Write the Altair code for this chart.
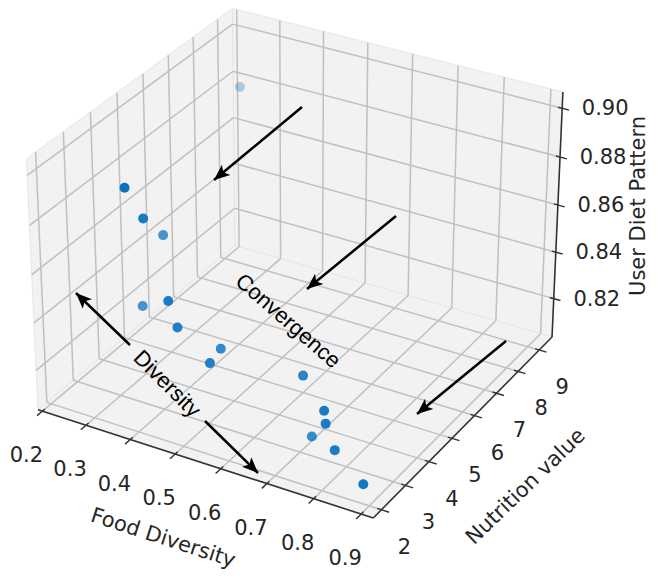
import math
import altair as alt
import pandas as pd

# ---------------- data ----------------
food_diversity = [0.222, 0.371, 0.390, 0.354, 0.354, 0.468, 0.481, 0.531,
                  0.549, 0.691, 0.769, 0.777, 0.716, 0.804, 0.878]
nutrition_value = [9.33, 2.21, 2.54, 3.87, 3.03, 2.08, 2.18, 2.95,
                   2.21, 3.29, 2.67, 2.58, 3.18, 2.44, 2.18]
diet_pattern = [0.877, 0.900, 0.886, 0.866, 0.844, 0.861, 0.850, 0.837,
                0.839, 0.832, 0.828, 0.824, 0.809, 0.816, 0.809]

x_ticks = [0.2, 0.3, 0.4, 0.5, 0.6, 0.7, 0.8, 0.9]
y_ticks = [2, 3, 4, 5, 6, 7, 8, 9]
z_ticks = [0.82, 0.84, 0.86, 0.88, 0.90]
x_tick_labels = ["0.2", "0.3", "0.4", "0.5", "0.6", "0.7", "0.8", "0.9"]
y_tick_labels = ["2", "3", "4", "5", "6", "7", "8", "9"]
z_tick_labels = ["0.82", "0.84", "0.86", "0.88", "0.90"]

axis_titles = ["Food Diversity", "Nutrition value", "User Diet Pattern"]
note_texts = ["Convergence", "Diversity"]

# limits of the 3-D box
x_lim = [0.19, 0.9255]
y_lim = [1.67, 9.62]
z_lim = [0.8032, 0.9066]

# ---------------- view / layout ----------------
ELEV, AZIM, DIST = 30.0, -60.0, 10.0
BOX = [8 / 7, 8 / 7, 6 / 7]
W, H = 643, 564
U_DOM = [-86.73, 104.52]
V_DOM = [-96.02, 72.90]

# annotation anchors in projected view units
title_u = [-40.63, 67.34, 100.95]
title_v = [-86.0, -70.56, 13.60]
title_angle = [18, 316, 270]
note_u = [-3.45, -39.41]
note_v = [-20.84, -39.69]
note_angle = [41, 45]
arrow_u0 = [0.71, 28.67, 61.39, -50.45, -28.14]
arrow_v0 = [43.25, 10.60, -26.83, -28.03, -50.79]
arrow_u1 = [-25.46, 2.20, 34.92, -66.51, -12.37]
arrow_v1 = [21.38, -11.26, -48.70, -12.46, -66.37]

ARROW_HEAD = "M0,0 L0.42,1 L0,0.76 L-0.42,1 Z"

# ---------------- projection (matplotlib-like perspective) ----------------
e, a = math.radians(ELEV), math.radians(AZIM)
w = [math.cos(e) * math.cos(a), math.cos(e) * math.sin(a), math.sin(e)]
n = math.hypot(w[0], w[1])
u = [-w[1] / n, w[0] / n, 0.0]
v = [w[1] * u[2] - w[2] * u[1], w[2] * u[0] - w[0] * u[2], w[0] * u[1] - w[1] * u[0]]

x0, x1 = x_lim
y0, y1 = y_lim
z0, z1 = z_lim
rx, ry, rz = x1 - x0, y1 - y0, z1 - z0


def project(ch):
    return (
        ch.transform_calculate(qx=f"{BOX[0]}*((datum.x-({x0}))/{rx}-0.5)")
        .transform_calculate(qy=f"{BOX[1]}*((datum.y-({y0}))/{ry}-0.5)")
        .transform_calculate(qz=f"{BOX[2]}*((datum.z-({z0}))/{rz}-0.5)")
        .transform_calculate(dep=f"({w[0]})*datum.qx+({w[1]})*datum.qy+({w[2]})*datum.qz")
        .transform_calculate(px=f"1000*(({u[0]})*datum.qx+({u[1]})*datum.qy+({u[2]})*datum.qz)/({DIST}-datum.dep)")
        .transform_calculate(py=f"1000*(({v[0]})*datum.qx+({v[1]})*datum.qy+({v[2]})*datum.qz)/({DIST}-datum.dep)")
    )


def XY(xf="px", yf="py"):
    return dict(
        x=alt.X(f"{xf}:Q", scale=alt.Scale(domain=U_DOM, nice=False, zero=False), axis=None),
        y=alt.Y(f"{yf}:Q", scale=alt.Scale(domain=V_DOM, nice=False, zero=False), axis=None),
    )


# ---------------- structure tables ----------------
def segs(pairs):
    rows = []
    for i, (p, q) in enumerate(pairs):
        rows.append(dict(seg=i, ord=0, x=p[0], y=p[1], z=p[2]))
        rows.append(dict(seg=i, ord=1, x=q[0], y=q[1], z=q[2]))
    return pd.DataFrame(rows)


pane_rows = []
panes = [
    [(x0, y0, z0), (x0, y1, z0), (x0, y1, z1), (x0, y0, z1)],  # left wall
    [(x0, y1, z0), (x1, y1, z0), (x1, y1, z1), (x0, y1, z1)],  # back wall
    [(x0, y0, z0), (x1, y0, z0), (x1, y1, z0), (x0, y1, z0)],  # floor
]
for i, poly in enumerate(panes):
    for k, p in enumerate(poly):
        pane_rows.append(dict(pane=i, ord=k, x=p[0], y=p[1], z=p[2]))
pane_df = pd.DataFrame(pane_rows)

grid_pairs = []
for t in x_ticks:
    grid_pairs += [((t, y0, z0), (t, y1, z0)), ((t, y1, z0), (t, y1, z1))]
for t in y_ticks:
    grid_pairs += [((x0, t, z0), (x1, t, z0)), ((x0, t, z0), (x0, t, z1))]
for t in z_ticks:
    grid_pairs += [((x0, y1, t), (x1, y1, t)), ((x0, y0, t), (x0, y1, t))]
grid_df = segs(grid_pairs)

axis_df = segs([((x0, y0, z0), (x1, y0, z0)),
                ((x1, y0, z0), (x1, y1, z0)),
                ((x1, y1, z0), (x1, y1, z1))])

tick_pairs = []
for t in x_ticks:
    tick_pairs.append(((t, y0 - 0.025 * ry, z0), (t, y0 + 0.012 * ry, z0)))
for t in y_ticks:
    tick_pairs.append(((x1 - 0.012 * rx, t, z0), (x1 + 0.022 * rx, t, z0)))
for t in z_ticks:
    tick_pairs.append(((x1 - 0.012 * rx, y1, t), (x1 + 0.02 * rx, y1, t)))
tick_df = segs(tick_pairs)

xl_df = pd.DataFrame({"x": x_ticks, "y": y0, "z": z0, "label": x_tick_labels})
yl_df = pd.DataFrame({"x": x1, "y": y_ticks, "z": z0, "label": y_tick_labels})
zl_df = pd.DataFrame({"x": x1, "y": y1, "z": z_ticks, "label": z_tick_labels})

pts_df = pd.DataFrame({"x": food_diversity, "y": nutrition_value, "z": diet_pattern})

title_df = pd.DataFrame({"px": title_u, "py": title_v, "angle": title_angle, "label": axis_titles})
note_df = pd.DataFrame({"px": note_u, "py": note_v, "angle": note_angle, "label": note_texts})
arrow_df = pd.DataFrame({"px": arrow_u0, "py": arrow_v0, "px2": arrow_u1, "py2": arrow_v1})

TXT = "#262626"

# ---------------- layers ----------------
pane_layer = project(alt.Chart(pane_df)).mark_line(
    interpolate="linear-closed", fill="#f2f2f2", stroke="#e6e6e6", strokeWidth=1
).encode(**XY(), detail="pane:N", order="ord:Q")

grid_layer = project(alt.Chart(grid_df)).mark_line(
    color="#c0c0c0", strokeWidth=1.5
).encode(**XY(), detail="seg:N", order="ord:Q")

axis_layer = project(alt.Chart(axis_df)).mark_line(
    color="#333333", strokeWidth=1.6
).encode(**XY(), detail="seg:N", order="ord:Q")

tick_layer = project(alt.Chart(tick_df)).mark_line(
    color="#333333", strokeWidth=1.4
).encode(**XY(), detail="seg:N", order="ord:Q")


def tick_text(df, dx, dy):
    return project(alt.Chart(df)).mark_text(
        dx=dx, dy=dy, fontSize=21, font="DejaVu Sans", color=TXT,
        align="center", baseline="middle"
    ).encode(**XY(), text="label:N")


xl_layer = tick_text(xl_df, -16, 45)
yl_layer = tick_text(yl_df, 23, 38)
zl_layer = tick_text(zl_df, 43, 1)

point_layer = (
    project(alt.Chart(pts_df))
    .transform_calculate(tz=f"-{DIST}/({DIST}-datum.dep)")
    .transform_joinaggregate(tzmin="min(tz)", tzmax="max(tz)")
    .transform_calculate(alpha="1-0.7*(datum.tz-datum.tzmin)/(datum.tzmax-datum.tzmin)")
    .mark_circle(size=100, color="#0b72c1")
    .encode(**XY(), opacity=alt.Opacity("alpha:Q", scale=None),
            order=alt.Order("dep:Q", sort="ascending"))
)

title_layer = alt.Chart(title_df).mark_text(
    fontSize=21, font="DejaVu Sans", color=TXT, align="center", baseline="middle"
).encode(**XY(), text="label:N", angle=alt.Angle("angle:Q", scale=None))

note_layer = alt.Chart(note_df).mark_text(
    fontSize=22, font="Liberation Sans", color="black", align="center", baseline="middle"
).encode(**XY(), text="label:N", angle=alt.Angle("angle:Q", scale=None))

arrow_line = alt.Chart(arrow_df).mark_rule(color="black", strokeWidth=2.5).encode(
    **XY(), x2="px2:Q", y2="py2:Q"
)

px_per_u = W / (U_DOM[1] - U_DOM[0])
px_per_v = H / (V_DOM[1] - V_DOM[0])
arrow_head = (
    alt.Chart(arrow_df)
    .transform_calculate(
        ang=f"(atan2({px_per_u}*(datum.px2-datum.px), {px_per_v}*(datum.py2-datum.py))*180/PI+360)%360"
    )
    .mark_point(shape=ARROW_HEAD, filled=True, size=1000, color="black", opacity=1, strokeWidth=0)
    .encode(**XY("px2", "py2"), angle=alt.Angle("ang:Q", scale=None))
)

chart = alt.layer(
    pane_layer, grid_layer, axis_layer, tick_layer,
    xl_layer, yl_layer, zl_layer,
    point_layer, note_layer, arrow_line, arrow_head, title_layer,
).properties(
    width=W, height=H, padding=0,
    autosize=alt.AutoSizeParams(type="none"),
    background="white",
).configure_view(strokeWidth=0)

chart.save("out.html", embed_options={"renderer": "svg", "actions": False})
